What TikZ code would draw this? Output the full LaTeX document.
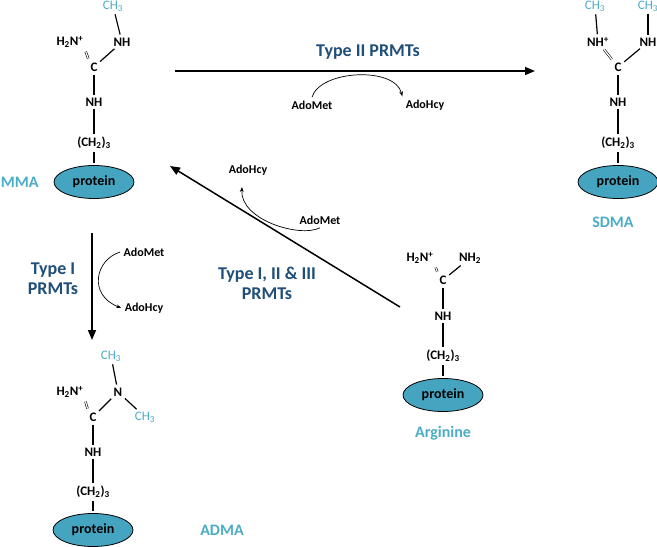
\documentclass[tikz,border=0pt]{standalone}
\usepackage{fontspec}
\setmainfont{Carlito}
\usetikzlibrary{shapes.geometric,arrows.meta}
\definecolor{cy}{HTML}{4BACC6}
\definecolor{db}{HTML}{1F4E79}
\definecolor{pf}{HTML}{45A5C0}
\newcommand{\sbx}[1]{\textsubscript{#1}}
\newcommand{\spx}[1]{\textsuperscript{#1}}
\begin{document}
\begin{tikzpicture}[x=1pt,y=-1pt,
  atm/.style={font=\bfseries\fontsize{13}{13}\selectfont, inner sep=1pt},
  me/.style={inner sep=1pt, text=cy, font=\fontsize{13}{13}\selectfont},
  lab/.style={font=\bfseries\fontsize{18}{20}\selectfont, text=db, align=center},
  molname/.style={font=\bfseries\fontsize{16}{16}\selectfont, text=cy},
  prot/.style={ellipse, draw, thick, fill=pf, minimum width=80pt, minimum height=33pt, inner sep=0pt, font=\bfseries\fontsize{14}{14}\selectfont},
  small/.style={font=\bfseries\fontsize{12}{12}\selectfont},
  bond/.style={line width=1.2pt, shorten <=2pt, shorten >=2pt},
  big/.style={line width=1.5pt,-{Triangle[length=10pt,width=8pt]}},
  cur/.style={line width=0.7pt,-{Stealth[length=5pt]}}]
\useasboundingbox (0,0) rectangle (657,547);
% ---- MMA
\node[me] (m1) at (113,6) {CH\sbx3};
\node[atm] (m2) at (122,42) {NH};
\node[atm] (m3) at (70,42) {H\sbx2N\spx+};
\node[atm] (m4) at (94,67) {C};
\node[atm] (m5) at (94,102) {NH};
\node[atm] (m6) at (94,143) {(CH\sbx2)\sbx3};
\node[prot] (m7) at (94,182) {protein};
\node[molname, anchor=east] (mn) at (42,182) {MMA};
\draw[bond] (m1) -- (m2); \draw[bond] (m2) -- (m4); \draw[bond] (m4) -- (m5);
\draw[bond] (m5) -- (m6); \draw[bond] (m6) -- (m7);
\draw[line width=0.6pt,double,double distance=1.2pt,shorten <=3pt,shorten >=3pt] (m3.south east) -- (m4.north west);
% ---- SDMA
\node[me] (s1) at (595,6) {CH\sbx3};
\node[me] (s2) at (648,6) {CH\sbx3};
\node[atm] (s3) at (598,42) {NH\spx+};
\node[atm] (s4) at (648,42) {NH};
\node[atm] (s5) at (618,67) {C};
\node[atm] (s6) at (618,102) {NH};
\node[atm] (s7) at (618,143) {(CH\sbx2)\sbx3};
\node[prot] (s8) at (618,182) {protein};
\node[molname] (sn) at (613,222) {SDMA};
\draw[bond] (s1) -- (s3); \draw[bond] (s2) -- (s4); \draw[bond] (s4) -- (s5);
\draw[bond] (s5) -- (s6); \draw[bond] (s6) -- (s7); \draw[bond] (s7) -- (s8);
\draw[line width=0.6pt,double,double distance=1.2pt,shorten <=2pt,shorten >=3pt] (s3) -- (s5);
% ---- ADMA
\node[me] (a1) at (111,356) {CH\sbx3};
\node[atm] (a2) at (118,392) {N};
\node[atm] (a3) at (70,392) {H\sbx2N\spx+};
\node[me] (a4) at (145,417) {CH\sbx3};
\node[atm] (a5) at (93,417) {C};
\node[atm] (a6) at (93,452) {NH};
\node[atm] (a7) at (93,492) {(CH\sbx2)\sbx3};
\node[prot] (a8) at (93,530) {protein};
\node[molname] (an) at (222,530) {ADMA};
\draw[bond] (a1) -- (a2); \draw[bond] (a2) -- (a5); \draw[bond] (a2) -- (a4);
\draw[bond] (a5) -- (a6); \draw[bond] (a6) -- (a7); \draw[bond] (a7) -- (a8);
\draw[line width=0.6pt,double,double distance=1.2pt,shorten <=3pt,shorten >=3pt] (a3.south east) -- (a5.north west);
% ---- Arginine
\node[atm] (r1) at (420,258) {H\sbx2N\spx+};
\node[atm] (r2) at (470,258) {NH\sbx2};
\node[atm] (r3) at (443,280) {C};
\node[atm] (r4) at (443,316) {NH};
\node[atm] (r5) at (443,356) {(CH\sbx2)\sbx3};
\node[prot] (r6) at (443,395) {protein};
\node[molname] (rn) at (443,433) {Arginine};
\draw[bond] (r2) -- (r3); \draw[bond] (r3) -- (r4); \draw[bond] (r4) -- (r5); \draw[bond] (r5) -- (r6);
\draw[line width=0.6pt,double,double distance=1.2pt,shorten <=3pt,shorten >=3pt] (r1.south east) -- (r3.north west);
% ---- Type II
\coordinate (t2a) at (175,71); \coordinate (t2b) at (535,71);
\draw[big] (t2a) -- (t2b);
\node[lab] (t2) at (368,52) {Type II PRMTs};
\node[small] (t2m) at (312,105) {AdoMet};
\node[small] (t2h) at (425,105) {AdoHcy};
\draw[cur] (t2m.north) .. controls (320,70) and (395,66) .. (t2h.north west);
% ---- Type I
\coordinate (t1a) at (92,233); \coordinate (t1b) at (92,340);
\draw[big] (t1a) -- (t1b);
\node[lab] (t1) at (53,279) {Type I\\PRMTs};
\node[small] (t1m) at (144,252) {AdoMet};
\node[small] (t1h) at (144,308) {AdoHcy};
\draw[cur] (t1m.west) .. controls (95,260) and (88,295) .. (t1h.west);
% ---- Type I, II & III
\coordinate (t3a) at (400,307); \coordinate (t3b) at (170,166);
\draw[big] (t3a) -- (t3b);
\node[lab] (t3) at (267,283) {Type I, II \& III\\PRMTs};
\node[small] (t3m) at (320,220) {AdoMet};
\node[small] (t3h) at (248,170) {AdoHcy};
\draw[cur] (t3m.south) .. controls (300,238) and (240,220) .. (242,187);
\end{tikzpicture}
\end{document}
